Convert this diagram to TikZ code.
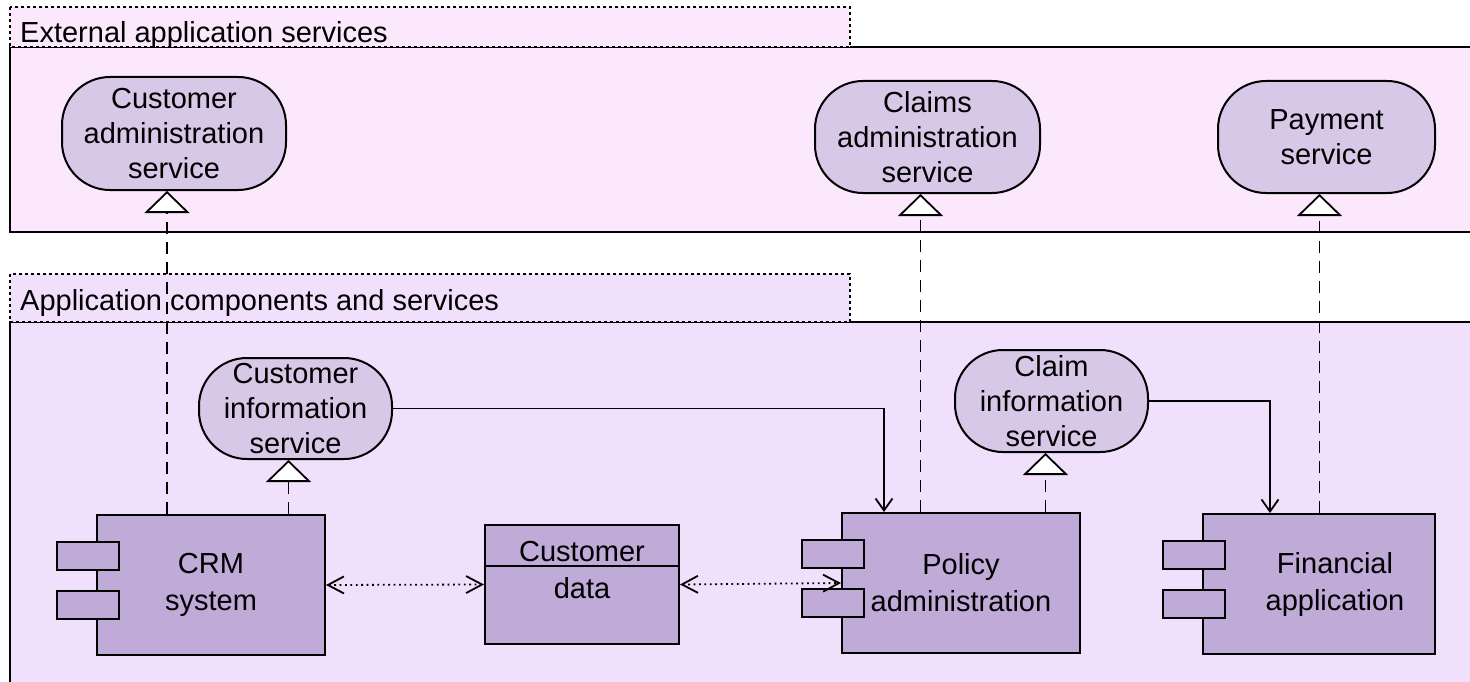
\documentclass[tikz,border=0pt]{standalone}
\usepackage{fontspec}
\setmainfont{Liberation Sans}
\usetikzlibrary{arrows.meta}
\definecolor{extfill}{RGB}{252,232,252}
\definecolor{appfill}{RGB}{241,224,252}
\definecolor{servfill}{RGB}{216,200,232}
\definecolor{compfill}{RGB}{192,170,216}
\begin{document}
\begin{tikzpicture}[x=1pt,y=-1pt,font=\fontsize{29}{35}\selectfont,
grptab/.style={draw=black,fill=#1,line width=1.8pt,dash pattern=on 3pt off 3pt},
grpbody/.style={draw=black,fill=#1,line width=2.2pt},
grplabel/.style={anchor=base west,inner sep=0pt},
service/.style={draw=black,fill=servfill,line width=2pt,rounded corners=48pt,align=center,inner sep=0pt},
appcomp/.style={draw=black,fill=compfill,line width=2pt,minimum width=228pt,minimum height=140pt,inner sep=0pt,align=center,font=\fontsize{29}{37}\selectfont},
comptext/.style={align=center,inner sep=0pt,font=\fontsize{29}{37}\selectfont},
port/.style={draw=black,fill=compfill,line width=2pt,minimum width=62pt,minimum height=28pt,inner sep=0pt},
dataobj/.style={draw=black,fill=compfill,line width=2pt,minimum width=194pt,minimum height=119pt,inner sep=0pt},
realize/.style={draw=black,line width=1.8pt,dash pattern=on 12pt off 8pt,-{Triangle[length=22pt,width=45pt,fill=white,line width=1.8pt]}},
flow/.style={draw=black,line width=1.8pt,-{Straight Barb[length=12pt,width=17pt,line width=1.8pt]}},
access/.style={draw=black,line width=1.8pt,dash pattern=on 1.8pt off 3.6pt,{Straight Barb[length=16pt,width=17pt,line width=1.8pt]}-{Straight Barb[length=16pt,width=17pt,line width=1.8pt]}}]
\clip (0,0) rectangle (1470,682);

% groups
\filldraw[grpbody=extfill] (10,47) rectangle (1480,232);
\filldraw[grptab=extfill] (10,7) rectangle (850,47);
\node[grplabel] (extlbl) at (20,43) {External application services};

\filldraw[grpbody=appfill] (10,322) rectangle (1480,695);
\filldraw[grptab=appfill] (10,274) rectangle (850,322);
\node[grplabel] (applbl) at (20,310) {Application components and services};

% external services
\node[service,minimum width=224pt,minimum height=113pt] (cas) at (174,133.5) {Customer\\administration\\service};
\node[service,minimum width=225pt,minimum height=112pt] (clas) at (927.5,137) {Claims\\administration\\service};
\node[service,minimum width=217pt,minimum height=112pt] (pays) at (1326.5,137) {Payment\\service};

% application services
\node[service,minimum width=193pt,minimum height=101pt] (cis) at (295.5,408.5) {Customer\\information\\service};
\node[service,minimum width=193pt,minimum height=102pt] (clis) at (1051.5,401) {Claim\\information\\service};

% components
\node[appcomp] (crm) at (211,585) {CRM\\system};
\node[port] (crmp1) at ([xshift=-8pt,yshift=-42pt]crm.north west) {};
\node[port] (crmp2) at ([xshift=-8pt,yshift=-91pt]crm.north west) {};

\node[appcomp,minimum width=238pt] (pol) at (961,583) {Policy\\administration};
\node[port] (polp1) at ([xshift=-8pt,yshift=-42pt]pol.north west) {};
\node[port] (polp2) at ([xshift=-8pt,yshift=-91pt]pol.north west) {};

\node[appcomp,minimum width=232pt] (fin) at (1319,584) {};
\node[comptext] (fintxt) at (1335,584) {Financial\\application};
\node[port] (finp1) at ([xshift=-8pt,yshift=-42pt]fin.north west) {};
\node[port] (finp2) at ([xshift=-8pt,yshift=-91pt]fin.north west) {};

% data object
\node[dataobj] (cd) at (582,584.5) {};
\draw[line width=2pt] ([yshift=-42pt]cd.north west) -- ([yshift=-42pt]cd.north east);
\node (cdtitle) at (582,552) {Customer};
\node (cdbody) at (582,588) {data};

% relations
\draw[realize] ([xshift=-7pt]cas.south |- crm.north) -- ([xshift=-7pt]cas.south);
\draw[realize] ([xshift=-7pt]cis.south |- crm.north) -- ([xshift=-7pt]cis.south);
\draw[realize] ([xshift=-7pt]clas.south |- pol.north) -- ([xshift=-7pt]clas.south);
\draw[realize] ([xshift=-6pt]clis.south |- pol.north) -- ([xshift=-6pt]clis.south);
\draw[realize] ([xshift=-7pt]pays.south |- fin.north) -- ([xshift=-7pt]pays.south);

\draw[flow] (cis.east) -| ([xshift=43pt]pol.north west);
\draw[flow] (clis.east) -| ([xshift=68pt]fin.north west);

\draw[access] (crm.east) -- (cd.west);
\draw[access] (cd.east) -- (pol.west);
\end{tikzpicture}
\end{document}
